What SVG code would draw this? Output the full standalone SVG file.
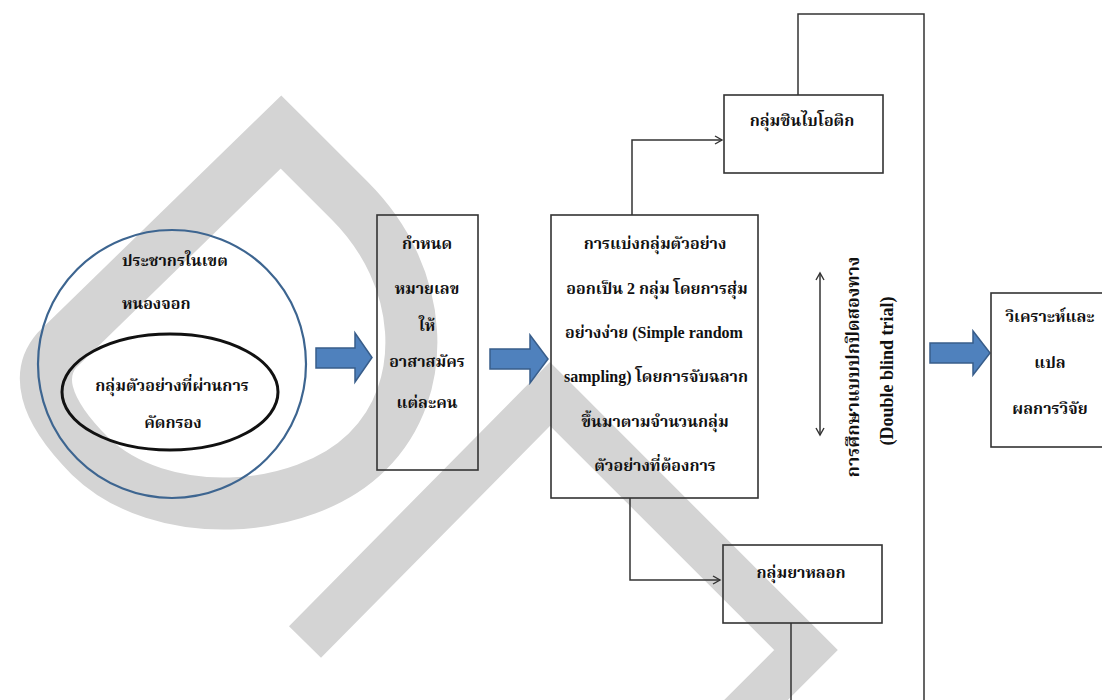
<svg xmlns="http://www.w3.org/2000/svg" width="1102" height="700" viewBox="0 0 1102 700">
<style>
.wm{fill:none;stroke:#d4d4d4;stroke-linejoin:miter;stroke-linecap:butt}
.box{fill:none;stroke:#333;stroke-width:1.6}
.t{font-family:'Liberation Serif','Norasi','Noto Serif Thai','Noto Sans Thai',serif;font-size:16px;font-weight:bold;fill:#111;text-anchor:middle}
.tl{text-anchor:start}
.tv{font-size:18px}
.arr{fill:#4f81bd;stroke:#385d8a;stroke-width:1.5}
.ln{fill:none;stroke:#333;stroke-width:1.5}
</style>
<defs>
<marker id="ah" markerWidth="10" markerHeight="10" refX="8" refY="5" orient="auto" markerUnits="userSpaceOnUse">
<path d="M1,1 L8,5 L1,9" fill="none" stroke="#333" stroke-width="1.4"/>
</marker>
<marker id="ahs" markerWidth="10" markerHeight="10" refX="8" refY="5" orient="auto-start-reverse" markerUnits="userSpaceOnUse">
<path d="M1,1 L8,5 L1,9" fill="none" stroke="#333" stroke-width="1.4"/>
</marker>
</defs>
<rect width="1102" height="700" fill="#fff"/>
<g id="watermark">
<path class="wm" stroke-width="52" d="M281 132 L350 201 C425 276 432 388 367 452 C302 516 160 524 90 456 C40 406 38 372 57 350 Z"/>
<path class="wm" stroke-width="45" d="M305 642 L550 394 L806 650 L740 716"/>
</g>
<g id="connectors">
<path class="ln" d="M632 215 L632 140 L722 140" marker-end="url(#ah)"/>
<path class="ln" d="M630 498 L630 580 L720 580" marker-end="url(#ah)"/>
<path class="ln" d="M798 95 L798 14 L924 14 L924 700"/>
<path class="ln" d="M791 623 L791 700"/>
<path class="ln" d="M820 273 L820 435" marker-start="url(#ahs)" marker-end="url(#ahs)"/>
<path class="arr" d="M316 348 L355 348 L355 333 L372 357.5 L355 382 L355 368 L316 368 Z"/>
<path class="arr" d="M490 349 L530 349 L530 335 L548 359 L530 383 L530 369 L490 369 Z"/>
<path class="arr" d="M930 343 L973 343 L973 331 L990 353 L973 375 L973 363 L930 363 Z"/>
</g>
<g id="population">
<ellipse cx="172" cy="364" rx="134" ry="134" fill="none" stroke="#3d6590" stroke-width="2.2"/>
<text class="t tl" x="122" y="266">ประชากรในเขต</text>
<text class="t tl" x="122" y="309">หนองจอก</text>
</g>
<g id="sample">
<ellipse cx="170" cy="392" rx="108" ry="58" fill="none" stroke="#111" stroke-width="3"/>
<text class="t" x="172" y="391">กลุ่มตัวอย่างที่ผ่านการ</text>
<text class="t" x="173" y="428">คัดกรอง</text>
</g>
<g id="assign">
<rect class="box" x="377" y="215" width="101" height="255"/>
<text class="t" x="427" y="249">กำหนด</text>
<text class="t" x="427" y="294">หมายเลข</text>
<text class="t" x="427" y="331">ให้</text>
<text class="t" x="427" y="367">อาสาสมัคร</text>
<text class="t" x="427" y="408">แต่ละคน</text>
</g>
<g id="randomize">
<rect class="box" x="551" y="215" width="207" height="283"/>
<text class="t" x="655" y="249">การแบ่งกลุ่มตัวอย่าง</text>
<text class="t" x="657" y="294">ออกเป็น 2 กลุ่ม โดยการสุ่ม</text>
<text class="t" x="654" y="338">อย่างง่าย (Simple random</text>
<text class="t" x="656" y="382">sampling) โดยการจับฉลาก</text>
<text class="t" x="655" y="427">ขึ้นมาตามจำนวนกลุ่ม</text>
<text class="t" x="655" y="471">ตัวอย่างที่ต้องการ</text>
</g>
<g id="synbiotic">
<rect class="box" x="724" y="95" width="159" height="78"/>
<text class="t" x="802" y="126">กลุ่มซินไบโอติก</text>
</g>
<g id="placebo">
<rect class="box" x="723" y="545" width="159" height="78"/>
<text class="t" x="801" y="578">กลุ่มยาหลอก</text>
</g>
<g id="blind">
<text class="t tv" transform="translate(859 367) rotate(-90)">การศึกษาแบบปกปิดสองทาง</text>
<text class="t tv" transform="translate(893 371) rotate(-90)">(Double blind trial)</text>
</g>
<g id="analysis">
<rect class="box" x="991" y="293" width="120" height="154"/>
<text class="t" x="1050" y="322">วิเคราะห์และ</text>
<text class="t" x="1050" y="368">แปล</text>
<text class="t" x="1050" y="414">ผลการวิจัย</text>
</g>
</svg>
